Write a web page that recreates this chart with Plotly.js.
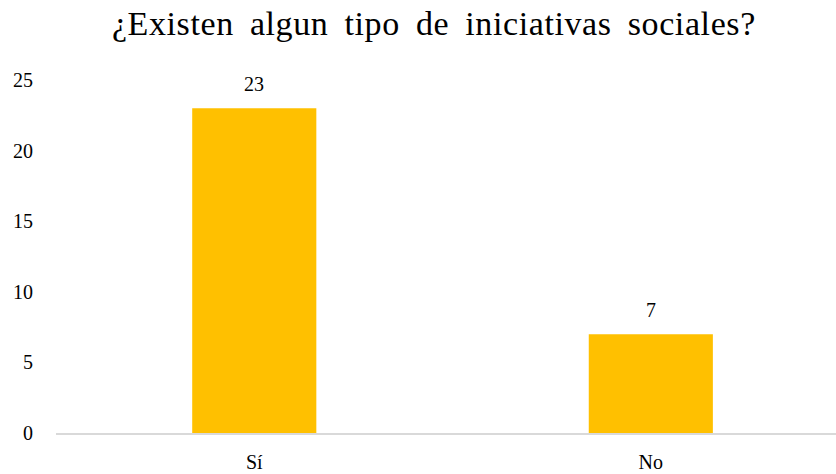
<!DOCTYPE html>
<html>
<head>
<meta charset="utf-8">
<script src="https://cdn.plot.ly/plotly-3.0.1.min.js"></script>
<style>
html,body{margin:0;padding:0;background:#fff;}
#chart{width:836px;height:474px;}
#chart .gtitle{letter-spacing:0.6px;word-spacing:7px;}
</style>
</head>
<body>
<div id="chart"></div>
<script>
const categories = ["Sí", "No"];
const values = [23, 7];
const yTicks = [0, 5, 10, 15, 20, 25];
const titleText = "¿Existen algun tipo de iniciativas sociales?";

const serif = "Liberation Serif, Times New Roman, serif";

Plotly.newPlot("chart", [{
  type: "bar",
  x: categories,
  y: values,
  marker: {color: "#FFC000"},
  hoverinfo: "none"
}], {
  width: 836,
  height: 474,
  margin: {l: 56, r: 0, t: 80, b: 41},
  paper_bgcolor: "#fff",
  plot_bgcolor: "#fff",
  bargap: 0.687,
  title: {text: titleText, font: {family: serif, size: 34, color: "#000"}, x: 0.519, xanchor: "center", y: 0.951, yanchor: "middle"},
  annotations: categories.map((c, i) => ({
    x: c, y: values[i], xref: "x", yref: "y",
    text: String(values[i]), showarrow: false,
    yanchor: "bottom", yshift: 11,
    font: {family: serif, size: 20, color: "#000"}
  })),
  xaxis: {
    range: [-0.5, 1.467],
    showline: true,
    linecolor: "#d9d9d9",
    linewidth: 2,
    showgrid: false,
    zeroline: false,
    ticks: "",
    tickfont: {family: serif, size: 20, color: "#000"},
    ticklabelstandoff: 10
  },
  yaxis: {
    range: [0, 25],
    tickvals: yTicks,
    showline: false,
    showgrid: false,
    zeroline: false,
    ticks: "",
    tickfont: {family: serif, size: 20, color: "#000"},
    ticklabelstandoff: 22
  },
  showlegend: false
}, {staticPlot: true});
</script>
</body>
</html>
